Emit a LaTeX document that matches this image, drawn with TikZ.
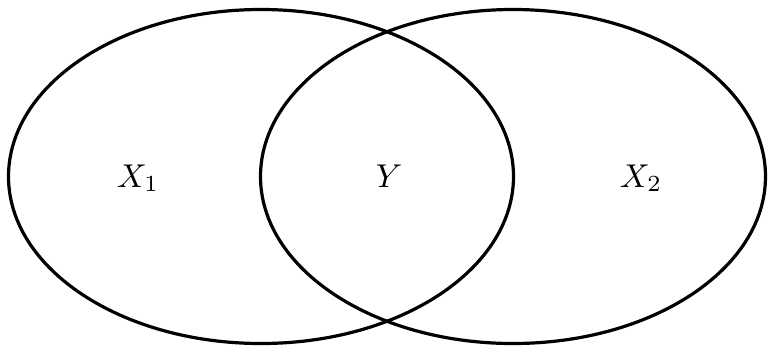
\documentclass[tikz,border=0pt]{standalone}
\usepackage{amsmath,amssymb}
\usetikzlibrary{shapes.geometric}

\begin{document}
\begin{tikzpicture}[x=1pt,y=-1pt,set/.style={draw,ellipse,line width=3.2pt,minimum width=505pt,minimum height=334pt,inner sep=0pt},lbl/.style={anchor=base,inner sep=0pt,scale=3.3}]
\useasboundingbox (0,0) rectangle (769,349);
\node[set](a) at (261,176.5){};
\node[set](b) at (513,176.5){};
\node[lbl](x1) at (138,187){$X_1$};
\node[lbl](y) at (389,187){$Y$};
\node[lbl](x2) at (641,187){$X_2$};
\end{tikzpicture}
\end{document}
